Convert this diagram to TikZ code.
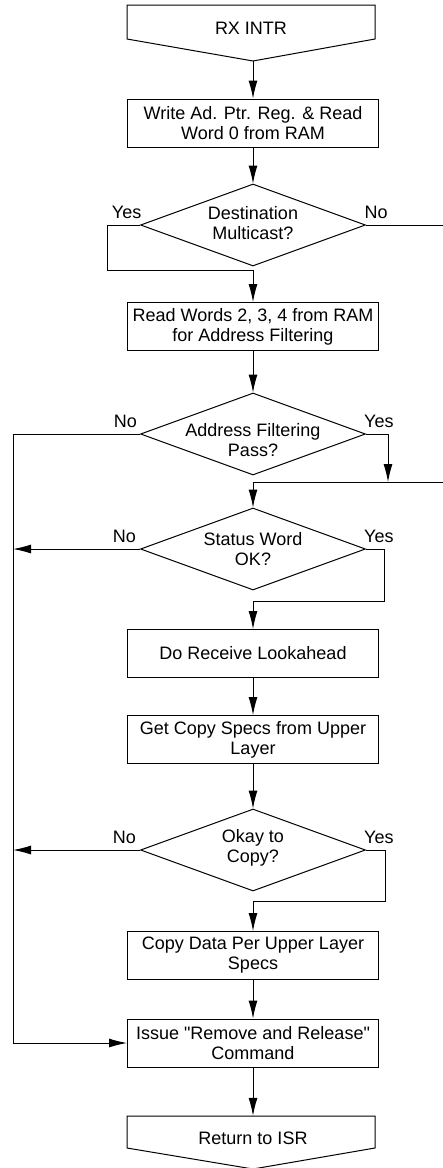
\documentclass[tikz,border=0pt]{standalone}
\usepackage{fontspec}
\setmainfont{Liberation Sans}[Ligatures=TeXOff]
\usetikzlibrary{arrows.meta,shapes.geometric,calc}
\begin{document}
\begin{tikzpicture}[x=1pt,y=-1pt,
  every node/.style={font=\fontsize{18}{20}\selectfont, align=center},
  box/.style={draw, line width=1pt, minimum width=251pt, minimum height=48pt, inner sep=0pt},
  dia/.style={draw, diamond, line width=1pt, minimum width=225pt, minimum height=82pt, inner sep=0pt},
  lbl/.style={inner sep=0pt},
  conn/.style={line width=1pt},
  arr/.style={line width=1pt, -{Latex[length=18pt,width=9pt]}},
]
\useasboundingbox (0,0) rectangle (443,1168);
\coordinate (rail) at (13,0);

% start terminal
\coordinate (rxtip) at (253,61);
\draw[conn] (127,5) -- (375,5) -- (375,39) -- (rxtip) -- (127,39) -- cycle;
\node[inner sep=0pt] (rx) at (251,28) {RX INTR};

\node[box] (b1) at (253,123) {Write Ad. Ptr. Reg. \& Read\\Word 0 from RAM};
\node[dia] (d1) at (253,225) {};
\node (d1t) at (253,223) {Destination\\Multicast?};
\node[box] (b2) at (253,326.5) {Read Words 2, 3, 4 from RAM\\for Address Filtering};
\node[dia] (d2) at (253,434) {};
\node (d2t) at (253,440) {Address Filtering\\Pass?};
\node[dia] (d3) at (253,549) {};
\node (d3t) at (253,549.5) {Status Word\\OK?};
\node[box] (b3) at (253,653.5) {Do Receive Lookahead};
\node[box] (b4) at (253,739.5) {Get Copy Specs from Upper\\Layer};
\node[dia] (d4) at (253,850) {};
\node (d4t) at (253,848) {Okay to\\Copy?};
\node[box] (b5) at (253,955.5) {Copy Data Per Upper Layer\\Specs};
\node[box] (b6) at (253,1043) {Issue "Remove and Release"\\Command};

% end terminal
\coordinate (rettip) at (253,1169);
\draw[conn] (127,1116) -- (375,1116) -- (375,1148) -- (rettip) -- (127,1148) -- cycle;
\node[inner sep=0pt, minimum height=44pt] (ret) at (253,1138) {Return to ISR};

% labels
\node[lbl, anchor=base east] (y1) at ([shift={(1.5pt,6.5pt)}]d1.west) {Yes};
\node[lbl, anchor=base west] (n1) at ([shift={(-1.5pt,6.5pt)}]d1.east) {No};
\node[lbl, anchor=base east] (n2) at ([shift={(-3pt,6.5pt)}]d2.west) {No};
\node[lbl, anchor=base west] (y2) at ([shift={(-2pt,6.5pt)}]d2.east) {Yes};
\node[lbl, anchor=base east] (n3) at ([shift={(-4pt,6.5pt)}]d3.west) {No};
\node[lbl, anchor=base west] (y3) at ([shift={(-2pt,6.5pt)}]d3.east) {Yes};
\node[lbl, anchor=base east] (n4) at ([shift={(-4pt,6.5pt)}]d4.west) {No};
\node[lbl, anchor=base west] (y4) at ([shift={(-2pt,6.5pt)}]d4.east) {Yes};

% connectors
\draw[arr] (rxtip) -- (b1.north);
\draw[arr] (b1) -- (d1);
\draw[arr] (d1.west) -| (107,270) -- (253,270) -- (b2);
\draw[arr] (b2) -- (d2);
\draw[arr] (d1.east) -| (446,482) -- (253,482) -- (d3);
\draw[arr] (d2.east) -| (388,482);
\draw[arr] (d2.west) -| (13,1043) -- (b6.west);
\draw[arr] (d3.west) -- (d3.west -| rail);
\draw[arr] (d3.east) -| (384,601) -- (253,601) -- (b3);
\draw[arr] (b3) -- (b4);
\draw[arr] (b4) -- (d4);
\draw[arr] (d4.west) -- (d4.west -| rail);
\draw[arr] (d4.east) -| (385,901) -- (253,901) -- (b5);
\draw[arr] (b5) -- (b6);
\draw[arr] (b6) -- (ret);
\end{tikzpicture}
\end{document}
